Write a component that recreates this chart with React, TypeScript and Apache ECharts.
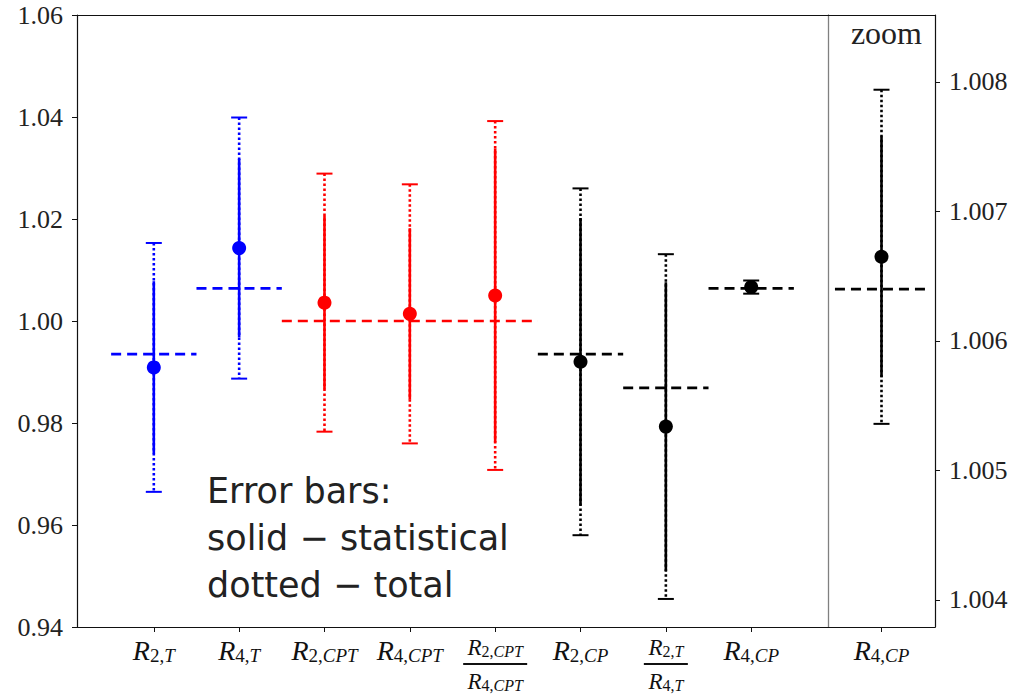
import React, { useEffect, useRef } from 'react';
import * as echarts from 'echarts';

// ---- data ----
const xPositions = [1, 2, 3, 4, 5, 6, 7, 8];
const xLabels = [
  '{R|R}{sn|2,}{si|T}',
  '{R|R}{sn|4,}{si|T}',
  '{R|R}{sn|2,}{si|CPT}',
  '{R|R}{sn|4,}{si|CPT}',
  '{fR|R}{fn|2,}{fi|CPT}\n{barA| }\n{fR|R}{fn|4,}{fi|CPT}',
  '{R|R}{sn|2,}{si|CP}',
  '{fR|R}{fn|2,}{fi|T}\n{barB| }\n{fR|R}{fn|4,}{fi|T}',
  '{R|R}{sn|4,}{si|CP}',
];
const centralValues = [0.9909, 1.0143, 1.0036, 1.0014, 1.005, 0.992, 0.9793, 1.00665];
const statErrors = [0.0169, 0.0175, 0.017, 0.0168, 0.0288, 0.0282, 0.0283, 0.00093];
const totalErrors = [0.0244, 0.0256, 0.0253, 0.0254, 0.0342, 0.034, 0.0338, 0.00129];
const colorGroups = [0, 0, 1, 1, 1, 2, 2, 2];
const palette = ['#0000ff', '#ff0000', '#000000'];

const refStarts = [0.5, 1.5, 2.5, 5.5, 6.5, 7.5];
const refEnds = [1.5, 2.5, 5.5, 6.5, 7.5, 8.5];
const refValues = [0.9935, 1.0064, 1.0, 0.9935, 0.9869, 1.0064];
const refColors = [0, 0, 1, 2, 2, 2];

const zoomLabel = '{R|R}{sn|4,}{si|CP}';
const zoomX = [1];
const zoomValues = [1.00665];
const zoomStat = [0.00093];
const zoomTotal = [0.00129];
const zoomRefStart = [0.13];
const zoomRefEnd = [1.87];
const zoomRefValue = [1.0064];

const rightTicks = [1.004, 1.005, 1.006, 1.007, 1.008];

const serif = 'Liberation Serif';

const rich = {
  R: { fontFamily: serif, fontStyle: 'italic', fontSize: 28, color: '#111', lineHeight: 30 },
  sn: { fontFamily: serif, fontSize: 19, color: '#111', padding: [11, 0, 0, 0] },
  si: { fontFamily: serif, fontStyle: 'italic', fontSize: 19, color: '#111', padding: [11, 0, 0, 0] },
  fR: { fontFamily: serif, fontStyle: 'italic', fontSize: 23, color: '#111', lineHeight: 24 },
  fn: { fontFamily: serif, fontSize: 16, color: '#111', padding: [8, 0, 0, 0] },
  fi: { fontFamily: serif, fontStyle: 'italic', fontSize: 16, color: '#111', padding: [8, 0, 0, 0] },
  barA: { width: 64, height: 2, backgroundColor: '#111', fontSize: 2, lineHeight: 10 },
  barB: { width: 44, height: 2, backgroundColor: '#111', fontSize: 2, lineHeight: 10 },
};

function errorBarItem(params: any, api: any) {
  const x = api.value(0);
  const v = api.value(1);
  const s = api.value(2);
  const t = api.value(3);
  const color = palette[api.value(4)];
  const pT = api.coord([x, v + t]);
  const pB = api.coord([x, v - t]);
  const sT = api.coord([x, v + s]);
  const sB = api.coord([x, v - s]);
  const c = api.coord([x, v]);
  const capW = 8;
  return {
    type: 'group',
    children: [
      { type: 'line', shape: { x1: pT[0], y1: pT[1], x2: pB[0], y2: pB[1] }, style: { stroke: color, lineWidth: 2.6, lineDash: [2.5, 2.5] } },
      { type: 'line', shape: { x1: sT[0], y1: sT[1], x2: sB[0], y2: sB[1] }, style: { stroke: color, lineWidth: 2.6 } },
      { type: 'line', shape: { x1: pT[0] - capW, y1: pT[1], x2: pT[0] + capW, y2: pT[1] }, style: { stroke: color, lineWidth: 2 } },
      { type: 'line', shape: { x1: pB[0] - capW, y1: pB[1], x2: pB[0] + capW, y2: pB[1] }, style: { stroke: color, lineWidth: 2 } },
      { type: 'circle', shape: { cx: c[0], cy: c[1], r: 7 }, style: { fill: color } },
    ],
  };
}

function refLineItem(params: any, api: any) {
  const x0 = api.value(0);
  const x1 = api.value(1);
  const y = api.value(2);
  const color = palette[api.value(3)];
  const a = api.coord([x0, y]);
  const b = api.coord([x1, y]);
  return {
    type: 'line',
    shape: { x1: a[0], y1: a[1], x2: b[0], y2: b[1] },
    style: { stroke: color, lineWidth: 2.7, lineDash: [10, 6] },
  };
}

export default function App() {
  const ref = useRef<HTMLDivElement>(null);
  useEffect(() => {
    if (!ref.current) return;
    const chart = echarts.init(ref.current, undefined, { renderer: 'svg' });

    const mainBars = xPositions.map((x, i) => [x, centralValues[i], statErrors[i], totalErrors[i], colorGroups[i]]);
    const mainRefs = refStarts.map((s, i) => [s, refEnds[i], refValues[i], refColors[i]]);
    const zoomBars = zoomX.map((x, i) => [x, zoomValues[i], zoomStat[i], zoomTotal[i], 2]);
    const zoomRefs = zoomRefStart.map((s, i) => [s, zoomRefEnd[i], zoomRefValue[i], 2]);

    const lineStyle = { color: '#111', width: 1.2 };
    const tickStyle = { color: '#111', width: 1 };

    chart.setOption({
      animation: false,
      backgroundColor: '#ffffff',
      grid: [
        { left: 77, top: 15, width: 751, height: 612 },
        { left: 828, top: 15, width: 107, height: 612 },
      ],
      xAxis: [
        {
          gridIndex: 0, type: 'value', min: 0.1, max: 8.9, position: 'bottom',
          axisLine: { show: true, onZero: false, lineStyle },
          axisTick: { show: true, length: 5, lineStyle: tickStyle, customValues: xPositions },
          axisLabel: {
            show: true, margin: 8, customValues: xPositions, verticalAlign: 'top',
            formatter: (v: number) => xLabels[xPositions.indexOf(Math.round(v))] || '',
            rich,
          },
          splitLine: { show: false },
        },
        {
          gridIndex: 0, type: 'value', min: 0.1, max: 8.9, position: 'top',
          axisLine: { show: true, onZero: false, lineStyle },
          axisTick: { show: false }, axisLabel: { show: false }, splitLine: { show: false },
        },
        {
          gridIndex: 1, type: 'value', min: 0, max: 2, position: 'bottom',
          axisLine: { show: true, onZero: false, lineStyle },
          axisTick: { show: true, length: 5, lineStyle: tickStyle, customValues: zoomX },
          axisLabel: {
            show: true, margin: 8, customValues: zoomX, verticalAlign: 'top',
            formatter: () => zoomLabel,
            rich,
          },
          splitLine: { show: false },
        },
        {
          gridIndex: 1, type: 'value', min: 0, max: 2, position: 'top',
          axisLine: { show: true, onZero: false, lineStyle },
          axisTick: { show: false }, axisLabel: { show: false }, splitLine: { show: false },
        },
      ],
      yAxis: [
        {
          gridIndex: 0, type: 'value', min: 0.94, max: 1.06, interval: 0.02, position: 'left',
          axisLine: { show: true, onZero: false, lineStyle },
          axisTick: { show: true, length: 5, lineStyle: tickStyle },
          axisLabel: {
            show: true, margin: 14, fontFamily: serif, fontSize: 26, color: '#222',
            formatter: (v: number) => v.toFixed(2),
          },
          splitLine: { show: false },
        },
        {
          gridIndex: 1, type: 'value', min: 1.0037915, max: 1.008517, position: 'right',
          axisLine: { show: true, onZero: false, lineStyle },
          axisTick: { show: true, length: 5, lineStyle: tickStyle, customValues: rightTicks },
          axisLabel: {
            show: true, margin: 14, fontFamily: serif, fontSize: 26, color: '#222',
            customValues: rightTicks,
            formatter: (v: number) => v.toFixed(3),
          },
          splitLine: { show: false },
        },
        {
          gridIndex: 1, type: 'value', min: 1.0037915, max: 1.008517, position: 'left',
          axisLine: { show: true, onZero: false, lineStyle: { color: '#808080', width: 1.3 } },
          axisTick: { show: false }, axisLabel: { show: false }, splitLine: { show: false },
        },
      ],
      series: [
        {
          type: 'custom', xAxisIndex: 0, yAxisIndex: 0, renderItem: refLineItem,
          data: mainRefs, encode: { x: [0, 1], y: 2 }, z: 2,
        },
        {
          type: 'custom', xAxisIndex: 0, yAxisIndex: 0, renderItem: errorBarItem,
          data: mainBars, encode: { x: 0, y: 1 }, z: 3,
        },
        {
          type: 'custom', xAxisIndex: 2, yAxisIndex: 1, renderItem: refLineItem,
          data: zoomRefs, encode: { x: [0, 1], y: 2 }, z: 2,
        },
        {
          type: 'custom', xAxisIndex: 2, yAxisIndex: 1, renderItem: errorBarItem,
          data: zoomBars, encode: { x: 0, y: 1 }, z: 3,
        },
      ],
      graphic: [
        {
          type: 'text', left: 207, top: 467, z: 10,
          style: {
            text: 'Error bars:\nsolid \u2212 statistical\ndotted \u2212 total',
            font: '35px "DejaVu Sans"', fill: '#222', lineHeight: 47,
          },
        },
        {
          type: 'text', right: 93, top: 17, z: 10,
          style: { text: 'zoom', font: '32px "Liberation Serif"', fill: '#222' },
        },
      ],
    });
    return () => chart.dispose();
  }, []);
  return <div ref={ref} style={{ position: 'absolute', left: 0, top: 0, width: 1015, height: 698 }} />;
}
